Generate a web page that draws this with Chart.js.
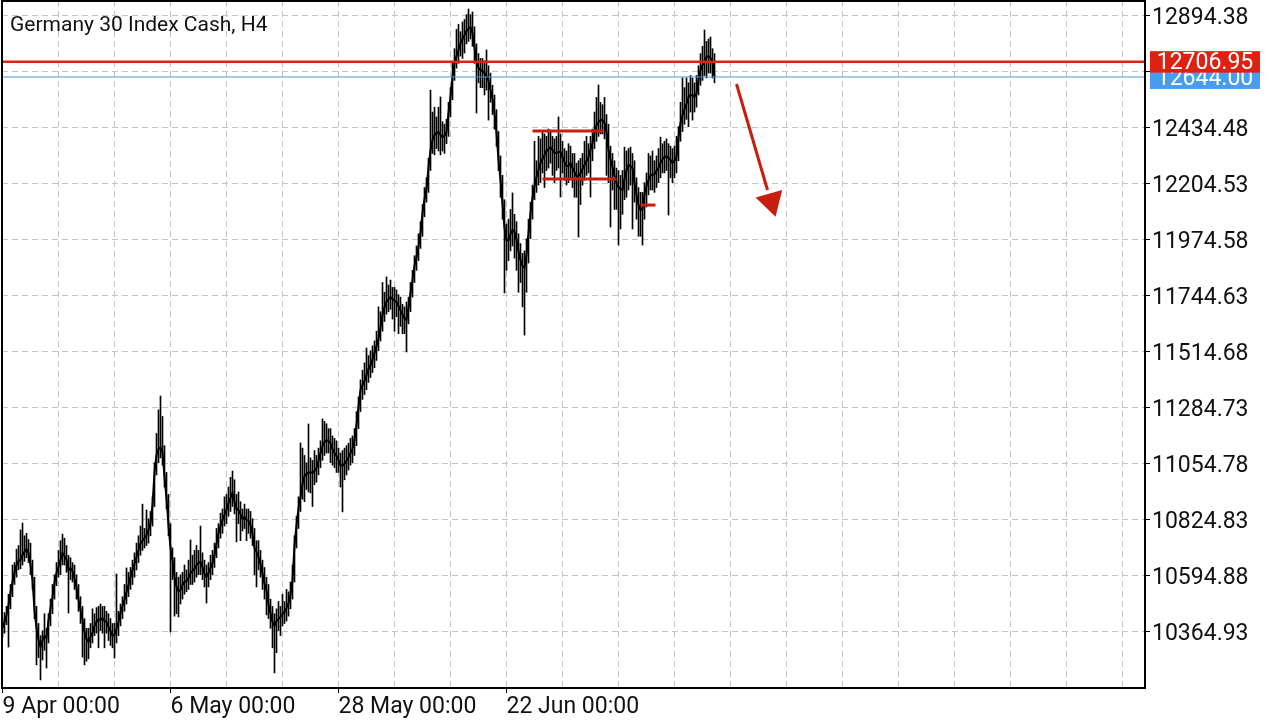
<!DOCTYPE html>
<html>
<head>
<meta charset="utf-8">
<script src="https://cdn.jsdelivr.net/npm/chart.js@4.4.0/dist/chart.umd.min.js"></script>
<style>
  html, body { margin: 0; padding: 0; background: #fff; }
  #wrap { width: 1280px; height: 720px; }
</style>
</head>
<body>
<div id="wrap"><canvas id="chart" width="1280" height="720"></canvas></div>
<script>
// Germany 30 Index Cash, H4 - bar chart, one entry per H4 bar
const symbolTitle = 'Germany 30 Index Cash, H4';

const closes = [
  10381,10406,10435,10476,10525,10570,10607,10640,10657,10661,
  10681,10694,10706,10690,10640,10579,10455,10381,10332,10303,
  10332,10349,10340,10414,10463,10509,10566,10607,10632,10661,
  10690,10677,10661,10620,10628,10616,10583,10546,10496,10455,
  10414,10365,10336,10324,10344,10361,10390,10406,10418,10414,
  10422,10410,10406,10386,10369,10349,10353,10377,10406,10443,
  10472,10496,10529,10558,10591,10620,10645,10673,10702,10730,
  10739,10751,10763,10784,10812,10886,11022,11092,11116,11124,
  11104,11001,10915,10804,10710,10661,10591,10550,10533,10537,
  10558,10570,10574,10587,10607,10616,10624,10640,10648,10653,
  10632,10603,10591,10607,10628,10648,10681,10726,10772,10800,
  10825,10845,10866,10895,10915,10936,10899,10870,10866,10849,
  10829,10837,10825,10821,10804,10768,10710,10694,10673,10645,
  10604,10563,10537,10476,10443,10406,10390,10410,10418,10427,
  10439,10447,10463,10484,10517,10579,10722,10804,10874,10919,
  10973,11005,11014,11018,11022,11018,11026,11038,11067,11100,
  11129,11145,11153,11149,11141,11116,11100,11088,11071,11051,
  11047,11055,11067,11083,11100,11116,11153,11215,11289,11359,
  11379,11396,11420,11445,11461,11482,11511,11539,11572,11617,
  11667,11699,11720,11732,11741,11732,11724,11720,11704,11687,
  11667,11654,11646,11699,11757,11810,11868,11905,11950,12003,
  12085,12143,12184,12274,12344,12385,12406,12414,12418,12406,
  12397,12402,12418,12496,12562,12644,12701,12730,12755,12783,
  12800,12816,12833,12841,12849,12824,12767,12705,12681,12673,
  12668,12660,12648,12627,12590,12553,12496,12414,12303,12221,
  12126,12024,11975,11975,11999,12016,12007,11975,11929,11892,
  11868,11860,11913,12003,12085,12147,12196,12233,12262,12291,
  12307,12324,12340,12348,12356,12344,12332,12332,12336,12336,
  12315,12295,12278,12278,12291,12270,12254,12237,12237,12250,
  12266,12283,12299,12315,12344,12373,12414,12447,12459,12467,
  12467,12455,12418,12344,12303,12274,12237,12209,12192,12184,
  12180,12225,12262,12282,12278,12270,12209,12159,12118,12098,
  12102,12163,12196,12221,12241,12241,12245,12258,12270,12291,
  12307,12315,12319,12311,12303,12291,12299,12315,12397,12455,
  12488,12512,12533,12562,12570,12570,12562,12578,12632,12673,
  12693,12710,12726,12730,12722,12705,12644
];

const highs = [
  10420,10445,10470,10520,10560,10640,10650,10705,10720,10784,
  10812,10760,10770,10745,10730,10660,10590,10470,10400,10350,
  10370,10440,10380,10440,10500,10560,10600,10650,10700,10740,
  10767,10750,10720,10680,10670,10650,10640,10600,10560,10510,
  10470,10420,10380,10380,10400,10460,10440,10465,10470,10480,
  10470,10470,10450,10440,10420,10400,10400,10603,10450,10480,
  10510,10560,10628,10610,10630,10660,10690,10730,10760,10800,
  10890,10790,10866,10830,10860,10920,11060,11180,11277,11334,
  11250,11130,11020,10930,10810,10710,10670,10610,10590,10600,
  10610,10640,10620,10660,10743,10680,10700,10720,10700,10800,
  10690,10660,10640,10650,10680,10700,10730,10790,10810,10853,
  10870,10920,10930,10960,11000,11026,10990,10930,10940,10900,
  10870,10890,10870,10870,10860,10830,10790,10740,10740,10700,
  10660,10630,10590,10560,10500,10470,10440,10460,10490,10470,
  10520,10490,10540,10530,10570,10640,10760,10840,10920,11141,
  11120,11090,11060,11219,11080,11070,11110,11090,11120,11150,
  11240,11230,11220,11200,11200,11170,11160,11150,11120,11100,
  11110,11120,11130,11140,11160,11170,11200,11270,11330,11400,
  11440,11470,11531,11500,11520,11540,11560,11600,11700,11680,
  11800,11760,11823,11790,11810,11780,11780,11770,11750,11740,
  11710,11700,11720,11740,11800,11850,11910,11950,12000,12050,
  12120,12190,12230,12310,12590,12500,12520,12480,12520,12562,
  12460,12450,12470,12540,12600,12700,12760,12840,12860,12830,
  12870,12880,12900,12923,12900,12911,12850,12780,12740,12720,
  12720,12710,12755,12690,12660,12610,12570,12510,12420,12320,
  12240,12140,12040,12060,12100,12168,12080,12050,12000,11960,
  11920,11930,11980,12060,12130,12200,12380,12300,12400,12390,
  12420,12410,12400,12430,12420,12400,12390,12400,12480,12410,
  12380,12350,12340,12370,12360,12330,12330,12290,12300,12310,
  12330,12380,12400,12370,12400,12430,12500,12560,12611,12540,
  12530,12560,12490,12450,12360,12330,12300,12270,12260,12240,
  12260,12356,12340,12350,12356,12330,12300,12230,12190,12170,
  12170,12210,12250,12330,12320,12340,12300,12320,12350,12397,
  12370,12380,12390,12370,12360,12350,12360,12400,12440,12540,
  12640,12600,12640,12620,12650,12640,12620,12650,12690,12740,
  12770,12837,12790,12800,12808,12760,12740
];

const lows = [
  10345,10360,10395,10303,10460,10510,10560,10590,10620,10625,
  10640,10655,10670,10650,10600,10540,10420,10230,10260,10168,
  10250,10290,10217,10320,10390,10440,10500,10555,10590,10600,
  10640,10640,10610,10443,10580,10570,10540,10500,10450,10400,
  10262,10230,10245,10255,10300,10320,10350,10360,10300,10370,
  10360,10300,10360,10330,10310,10300,10258,10320,10350,10390,
  10420,10450,10480,10510,10540,10560,10590,10620,10650,10680,
  10700,10710,10720,10730,10760,10800,10880,11010,11060,11080,
  11050,10960,10870,10760,10365,10580,10430,10440,10427,10480,
  10500,10520,10530,10540,10560,10560,10570,10590,10600,10600,
  10580,10550,10484,10550,10580,10600,10630,10670,10710,10750,
  10770,10800,10810,10840,10860,10880,10850,10735,10810,10740,
  10780,10790,10740,10770,10750,10720,10600,10550,10620,10590,
  10540,10500,10435,10420,10380,10300,10197,10280,10370,10350,
  10390,10400,10410,10430,10460,10500,10570,10710,10790,10860,
  10910,10900,10950,10940,10936,10880,10970,10980,11010,11040,
  11070,11090,11100,11100,11060,11050,11040,11020,11020,10960,
  10858,10990,11010,11030,11050,11060,11090,11130,11200,11270,
  11320,11340,11360,11390,11410,11430,11450,11480,11520,11560,
  11600,11640,11670,11680,11690,11650,11600,11660,11590,11620,
  11590,11590,11515,11630,11680,11740,11800,11850,11890,11940,
  11990,12070,12130,12170,12260,12330,12324,12350,12340,12324,
  12340,12330,12370,12400,12480,12550,12630,12680,12700,12730,
  12720,12742,12780,12790,12800,12770,12700,12496,12620,12600,
  12600,12570,12590,12467,12540,12490,12430,12360,12260,12150,
  12060,11757,11850,11890,11930,11950,11900,11850,11760,11800,
  11700,11584,11760,11880,11980,12060,12140,12170,12200,12210,
  12250,12190,12260,12270,12290,12240,12210,12260,12270,12151,
  12250,12220,12200,12210,12230,12190,12150,12150,11987,12120,
  12200,12220,12240,12250,12151,12300,12350,12380,12400,12410,
  12410,12390,12240,12210,12028,12180,12100,12100,11954,12020,
  12080,12140,12150,12180,12200,12020,12130,12060,11990,11990,
  11954,12060,12110,12160,12180,12180,12170,12190,12210,12230,
  12250,12250,12260,12077,12230,12210,12230,12250,12300,12380,
  12420,12450,12470,12440,12500,12467,12500,12520,12570,12610,
  12630,12650,12640,12660,12660,12640,12620
];

// time axis: bar index of each dated label
const dateTickBars = [0, 84, 168, 252];
const dateTickLabels = ['9 Apr 00:00', '6 May 00:00', '28 May 00:00', '22 Jun 00:00'];
const gridStepBars = 28;
const lastSlot = 571.25;

const priceTicks = [10364.93, 10594.88, 10824.83, 11054.78, 11284.73, 11514.68,
                    11744.63, 11974.58, 12204.53, 12434.48, 12664.43, 12894.38];
const priceMin = 10134.98;
const priceMax = 12955.97;

const levelPrice = 12706.95;   // red horizontal line
const bidPrice = 12644.00;     // last price line

// drawn objects [bar, price]
const upperLine = [[265, 12422], [300.5, 12422]];
const lowerLine = [[270, 12225], [307, 12225]];
const shortLine = [[319, 12118], [326.5, 12118]];
const arrowLine = [[367, 12615], [382.5, 12180]];
const arrowHead = [384.3, 12133];

function toPts(arr) {
	return arr.map(function(p) { return {x: p[0], y: p[1]}; });
}

var ranges = [];
var closePts = [];
for (var i = 0; i < closes.length; i++) {
	ranges.push({x: i, y: [lows[i], highs[i]]});
	closePts.push({x: i, y: closes[i]});
}

var gridBars = [];
for (var g = 0; g <= lastSlot; g += gridStepBars) gridBars.push(g);

var drawColour = '#c81e10';

// axes must not push the plot area in for label overhang
function noPadding(scale) {
	scale.paddingTop = 0;
	scale.paddingBottom = 0;
	scale.paddingLeft = 0;
	scale.paddingRight = 0;
}

var overlayPlugin = {
	id: 'overlay',
	afterDraw: function(chart) {
		var ctx = chart.ctx;
		var a = chart.chartArea;
		var y = chart.scales.y;
		ctx.save();
		ctx.strokeStyle = '#000';
		ctx.lineWidth = 2;
		ctx.strokeRect(a.left, a.top, a.right - a.left, a.bottom - a.top);

		ctx.font = '21px Roboto';
		ctx.fillStyle = '#111';
		ctx.textAlign = 'left';
		ctx.textBaseline = 'middle';
		ctx.fillText(symbolTitle, 10, 26);

		ctx.font = '23px Roboto';
		ctx.textAlign = 'center';
		var yb = y.getPixelForValue(bidPrice);
		ctx.fillStyle = '#4a9cf0';
		ctx.fillRect(a.right + 5, yb - 9, 110, 21);
		ctx.fillStyle = '#fff';
		ctx.fillText(bidPrice.toFixed(2), a.right + 60, yb + 2);

		var yr = y.getPixelForValue(levelPrice);
		ctx.fillStyle = '#de2211';
		ctx.fillRect(a.right + 5, yr - 10.5, 110, 21.5);
		ctx.fillStyle = '#fff';
		ctx.fillText(levelPrice.toFixed(2), a.right + 60, yr + 2);
		ctx.restore();
	}
};

var data1 = {
	datasets: [
		{
			type: 'bar',
			label: 'Range',
			data: ranges,
			backgroundColor: '#000',
			borderWidth: 0,
			barThickness: 1,
			order: 6
		},
		{
			type: 'line',
			label: 'Close',
			data: closePts,
			borderColor: '#000',
			borderWidth: 2,
			pointRadius: 0,
			tension: 0,
			order: 5
		},
		{
			type: 'line',
			label: 'Bid',
			data: [{x: -0.25, y: bidPrice}, {x: lastSlot, y: bidPrice}],
			borderColor: '#4a94e0',
			borderWidth: 1,
			pointRadius: 0,
			order: 4
		},
		{
			type: 'line',
			label: 'Level',
			data: [{x: -0.25, y: levelPrice}, {x: lastSlot, y: levelPrice}],
			borderColor: '#de2211',
			borderWidth: 2.5,
			pointRadius: 0,
			order: 3
		},
		{
			type: 'line', data: toPts(upperLine), borderColor: drawColour,
			borderWidth: 3, pointRadius: 0, order: 2
		},
		{
			type: 'line', data: toPts(lowerLine), borderColor: drawColour,
			borderWidth: 3, pointRadius: 0, order: 2
		},
		{
			type: 'line', data: toPts(shortLine), borderColor: drawColour,
			borderWidth: 3, pointRadius: 0, order: 2
		},
		{
			type: 'line', data: toPts(arrowLine), borderColor: drawColour,
			borderWidth: 3, pointRadius: 0, order: 2
		},
		{
			type: 'line', data: toPts([arrowHead]), showLine: false,
			pointStyle: 'triangle', pointRadius: 16, pointRotation: 163.9,
			pointBackgroundColor: drawColour, pointBorderWidth: 0, order: 1
		}
	]
};

var options1 = {
	responsive: false,
	animation: false,
	events: [],
	layout: { autoPadding: false, padding: { left: 2, top: 1, right: 0, bottom: 0 } },
	plugins: {
		legend: { display: false },
		tooltip: { enabled: false }
	},
	scales: {
		x: {
			type: 'linear',
			min: -0.25,
			max: lastSlot,
			offset: false,
			afterBuildTicks: function(scale) {
				scale.ticks = gridBars.map(function(v) { return {value: v}; });
			},
			afterFit: function(scale) { scale.height = 32; noPadding(scale); },
			border: { display: false, dash: [6, 4] },
			grid: {
				offset: false,
				color: '#c4c4c4',
				lineWidth: 1,
				tickLength: 5,
				tickColor: function(c) {
					return dateTickBars.indexOf(c.tick.value) >= 0 ? '#000' : 'rgba(0,0,0,0)';
				}
			},
			ticks: {
				autoSkip: false,
				maxRotation: 0,
				minRotation: 0,
				align: 'start',
				padding: 0,
				color: '#111',
				font: { family: 'Roboto', size: 23 },
				callback: function(value) {
					var k = dateTickBars.indexOf(value);
					return k >= 0 ? dateTickLabels[k] : '';
				}
			}
		},
		y: {
			type: 'linear',
			position: 'right',
			min: priceMin,
			max: priceMax,
			afterBuildTicks: function(scale) {
				scale.ticks = priceTicks.map(function(v) { return {value: v}; });
			},
			afterFit: function(scale) { scale.width = 135; noPadding(scale); },
			border: { display: false, dash: [6, 4] },
			grid: {
				color: '#c4c4c4',
				lineWidth: 1,
				tickLength: 5,
				tickColor: '#000'
			},
			ticks: {
				padding: 2,
				labelOffset: 2,
				color: '#111',
				font: { family: 'Roboto', size: 23 },
				callback: function(value) { return Number(value).toFixed(2); }
			}
		}
	}
};

var graph = new Chart('chart', {
	type: 'line',
	data: data1,
	options: options1,
	plugins: [overlayPlugin]
});
</script>
</body>
</html>
